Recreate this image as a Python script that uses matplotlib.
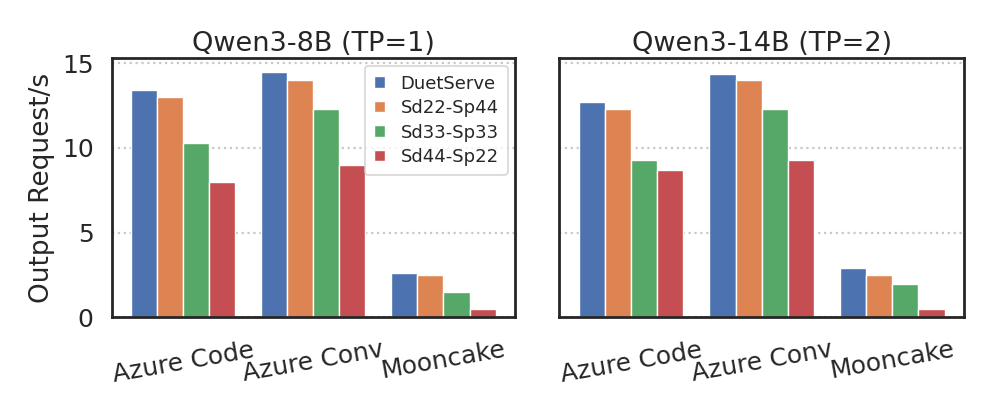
import matplotlib
matplotlib.use("Agg")
import matplotlib.pyplot as plt
import numpy as np

categories = ["Azure Code", "Azure Conv", "Mooncake"]
series = ["DuetServe", "Sd22-Sp44", "Sd33-Sp33", "Sd44-Sp22"]
colors = ["#4C72B0", "#DD8452", "#55A868", "#C44E52"]

titles = ["Qwen3-8B (TP=1)", "Qwen3-14B (TP=2)"]

qwen8b = {
    "DuetServe": [13.4, 14.5, 2.6],
    "Sd22-Sp44": [13.0, 14.0, 2.5],
    "Sd33-Sp33": [10.3, 12.3, 1.5],
    "Sd44-Sp22": [8.0, 9.0, 0.45],
}
qwen14b = {
    "DuetServe": [12.7, 14.4, 2.9],
    "Sd22-Sp44": [12.3, 14.0, 2.5],
    "Sd33-Sp33": [9.3, 12.3, 1.95],
    "Sd44-Sp22": [8.7, 9.3, 0.45],
}
panels = [qwen8b, qwen14b]
yticks = [0, 5, 10, 15]

plt.rcParams["font.family"] = "DejaVu Sans"
fig = plt.figure(figsize=(9.97, 4.15), dpi=100)
axes = [
    fig.add_axes([0.112, 0.236, 0.4046, 0.6235]),
    fig.add_axes([0.561, 0.236, 0.406, 0.6235]),
]

x = np.arange(len(categories))
width = 0.2
for i, (ax, data, title) in enumerate(zip(axes, panels, titles)):
    for j, s in enumerate(series):
        ax.bar(x + (j - 1.5) * width, data[s], width, color=colors[j],
               edgecolor="white", linewidth=1.0, label=s, zorder=2)
    ax.set_xlim(-0.55, 2.55)
    ax.set_ylim(0, 15.3)
    ax.set_yticks(yticks)
    ax.set_xticks(x)
    ax.set_xticklabels(categories, rotation=10, ha="center", fontsize=18, color="#262626")
    ax.tick_params(axis="both", length=0, colors="#262626")
    ax.tick_params(axis="y", pad=13, labelsize=18)
    ax.tick_params(axis="x", pad=15)
    ax.grid(axis="y", linestyle=":", color="#c8c8c8", linewidth=1.6, zorder=0)
    ax.set_axisbelow(True)
    for sp in ax.spines.values():
        sp.set_color("#262626")
        sp.set_linewidth(2.0)
    ax.set_title(title, fontsize=19.5, color="#262626", pad=5)
    if i == 1:
        ax.set_yticklabels([])
    else:
        ax.set_ylabel("Output Request/s", fontsize=19, color="#262626", labelpad=5)

leg = axes[0].legend(loc="upper right", fontsize=13, frameon=True, fancybox=True,
                     handlelength=0.65, handleheight=0.6, borderpad=0.5,
                     labelspacing=0.36, handletextpad=0.85, borderaxespad=0.4)
leg.get_frame().set_edgecolor("#cccccc")
leg.get_frame().set_linewidth(1.2)
for t in leg.get_texts():
    t.set_color("#262626")

fig.savefig("out.png", dpi=100)
